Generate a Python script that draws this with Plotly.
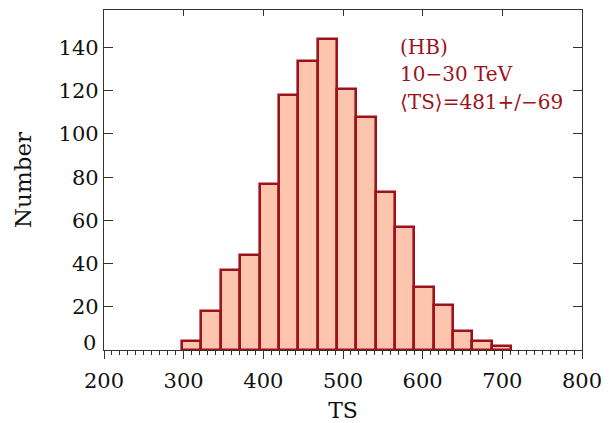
import plotly.graph_objects as go

# Histogram data (TS distribution, HB, 10-30 TeV)
bin_first_edge = 298.0
bin_width = 24.3
counts = [4, 18, 37, 44, 77, 118, 134, 144, 121, 108, 73, 57, 29, 21, 9, 4, 2]
x_tick_vals = [200, 300, 400, 500, 600, 700, 800]
y_tick_vals = [0, 20, 40, 60, 80, 100, 120, 140]
label_lines = ["(HB)", "10\u221230 TeV", "\u27e8TS\u27e9=481+/\u221269"]

centers = [bin_first_edge + bin_width * (i + 0.5) for i in range(len(counts))]

FONT = "DejaVu Serif"
DARK = "#9E121B"
FILL = "#FDC4AE"
AX = "#333333"
TICKSIZE = 21

fig = go.Figure()
fig.add_trace(go.Bar(
    x=centers, y=counts, width=bin_width,
    marker=dict(color=FILL, line=dict(color=DARK, width=2.6)),
    showlegend=False, hoverinfo="x+y",
))
# invisible trace to activate top axis
fig.add_trace(go.Scatter(x=[200], y=[0], xaxis="x2", mode="markers",
                         marker=dict(opacity=0), showlegend=False, hoverinfo="skip"))

fig.update_layout(
    width=614, height=423,
    margin=dict(l=96, r=40, t=2, b=81),
    plot_bgcolor="white", paper_bgcolor="white",
    font=dict(family=FONT, size=TICKSIZE, color="#111111"),
    bargap=0,
    xaxis=dict(
        range=[200, 800], tickvals=x_tick_vals,
        ticks="outside", ticklen=8, tickwidth=1.2, tickcolor=AX,
        ticklabelstandoff=4,
        showline=True, linecolor=AX, linewidth=1.3, showgrid=False, zeroline=False,
        minor=dict(dtick=10, ticks="outside", ticklen=4, tickwidth=1, tickcolor=AX, showgrid=False),
        title=dict(text="TS", font=dict(size=22), standoff=10),
        tickfont=dict(size=TICKSIZE),
    ),
    xaxis2=dict(
        range=[200, 800], overlaying="x", side="top", tickvals=x_tick_vals,
        ticks="inside", ticklen=6, tickwidth=1.2, tickcolor=AX,
        showline=True, linecolor=AX, linewidth=1.3, showticklabels=False,
        showgrid=False, zeroline=False,
    ),
    yaxis=dict(
        range=[0, 157.4], tickvals=y_tick_vals,
        ticktext=[""] + [str(v) for v in y_tick_vals[1:]],
        ticks="inside", ticklen=9, tickwidth=1.2, tickcolor=AX,
        showline=True, linecolor=AX, linewidth=1.3, mirror="ticks",
        showgrid=False, zeroline=False,
        title=dict(text="Number", font=dict(size=23), standoff=20),
        tickfont=dict(size=TICKSIZE),
    ),
)

# zero label sits slightly above the x axis line, as in the original
fig.add_annotation(x=0, xref="paper", y=0, yref="y", text="0", showarrow=False,
                   xanchor="right", yanchor="middle", xshift=-6, yshift=7,
                   font=dict(family=FONT, size=TICKSIZE, color="#111111"))

for i, line in enumerate(label_lines):
    fig.add_annotation(x=0.615, xref="paper", y=[0.892, 0.812, 0.730][i], yref="paper",
                       text=line, showarrow=False, xanchor="left", yanchor="middle",
                       font=dict(family=FONT, size=20, color=DARK))

fig.write_html("out.html")
